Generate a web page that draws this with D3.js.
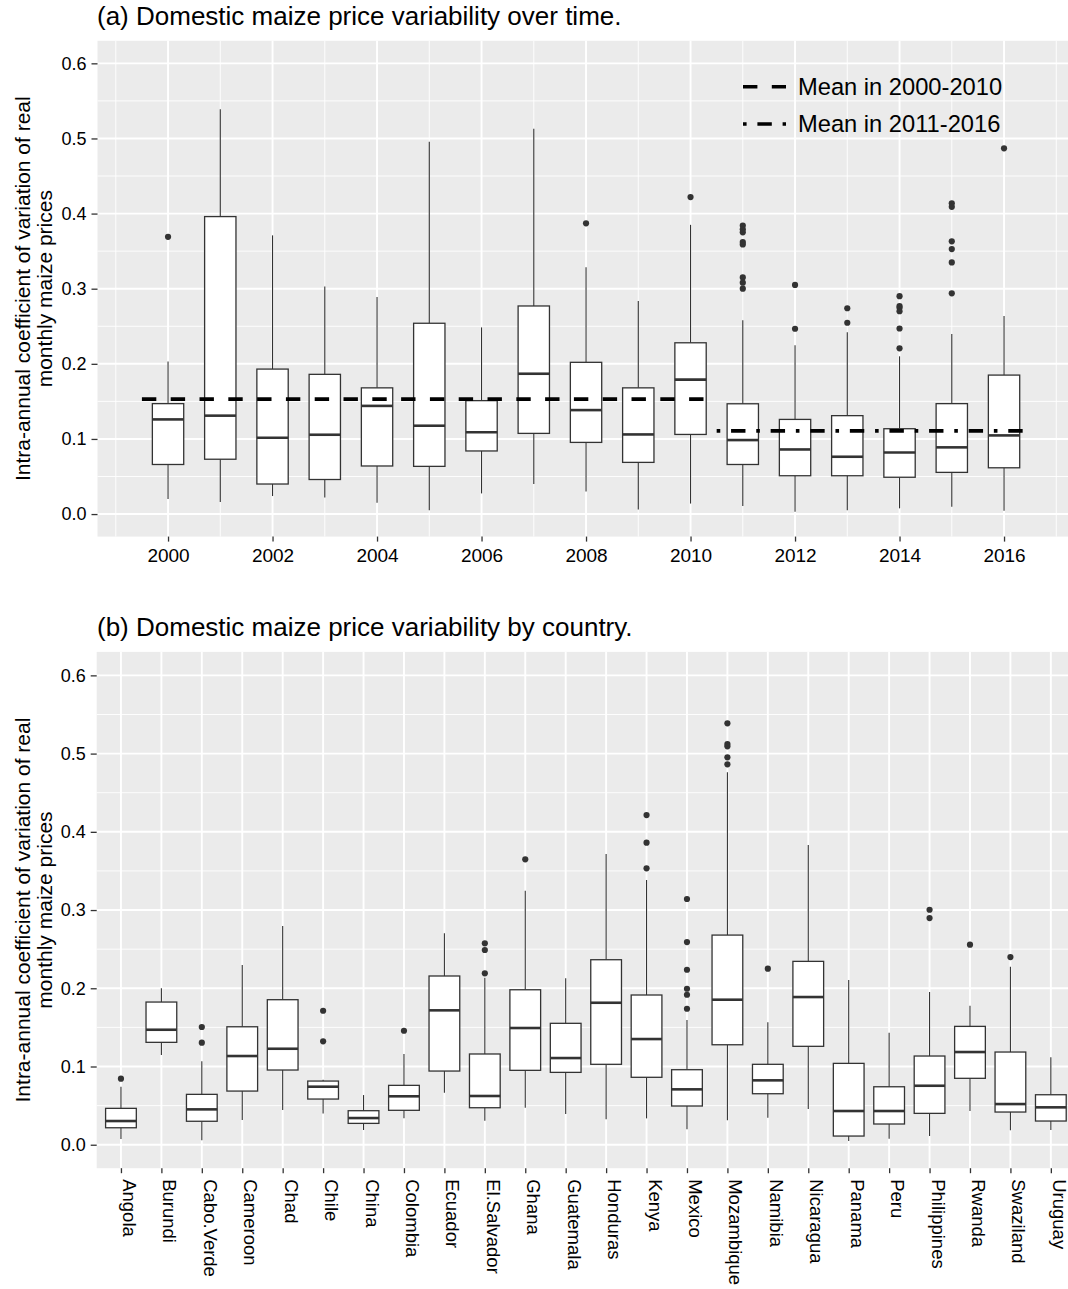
<!DOCTYPE html>
<html>
<head>
<meta charset="utf-8">
<script src="https://cdn.jsdelivr.net/npm/d3@7"></script>
<style>
  html, body { margin: 0; padding: 0; background: #ffffff; }
  svg { display: block; }
  text { font-family: "Liberation Sans", Arial, Helvetica, sans-serif; fill: #000; }
</style>
</head>
<body>
<svg id="chart" width="1068" height="1289"></svg>
<script>
// ---- Panel (a): yearly boxplot statistics --------------------------------
const years = [2000, 2001, 2002, 2003, 2004, 2005, 2006, 2007, 2008, 2009, 2010, 2011, 2012, 2013, 2014, 2015, 2016];
const yearWhiskerLow  = [0.020, 0.016, 0.024, 0.022, 0.015, 0.005, 0.0275, 0.040, 0.030, 0.006, 0.014, 0.0106, 0.003, 0.005, 0.0076, 0.0097, 0.0044];
const yearQ1          = [0.066, 0.073, 0.040, 0.046, 0.064, 0.0635, 0.084, 0.1074, 0.0954, 0.0688, 0.106, 0.066, 0.051, 0.051, 0.049, 0.0555, 0.0616];
const yearMedian      = [0.126, 0.131, 0.1016, 0.1056, 0.144, 0.1176, 0.109, 0.1868, 0.1384, 0.106, 0.179, 0.0985, 0.086, 0.0763, 0.082, 0.0888, 0.1047];
const yearQ3          = [0.147, 0.396, 0.193, 0.186, 0.168, 0.254, 0.151, 0.277, 0.202, 0.168, 0.228, 0.1468, 0.126, 0.131, 0.1136, 0.147, 0.185];
const yearWhiskerHigh = [0.203, 0.539, 0.371, 0.303, 0.289, 0.4956, 0.2485, 0.513, 0.3284, 0.2835, 0.385, 0.258, 0.2246, 0.242, 0.210, 0.2396, 0.2636];
const yearOutliers = [
  [0.369], [], [], [], [], [], [], [], [0.387], [], [0.422],
  [0.384, 0.379, 0.375, 0.362, 0.359, 0.315, 0.308, 0.300],
  [0.305, 0.2467],
  [0.274, 0.2547],
  [0.290, 0.277, 0.2746, 0.270, 0.247, 0.2206],
  [0.4136, 0.409, 0.363, 0.3528, 0.335, 0.2938],
  [0.4868]
];
const yearTicks = [2000, 2002, 2004, 2006, 2008, 2010, 2012, 2014, 2016];

// Period means drawn as horizontal reference lines
const meanPeriods = ["Mean in 2000-2010", "Mean in 2011-2016"];
const meanStart = [1999.5, 2010.5];
const meanEnd   = [2010.5, 2016.5];
const meanValue = [0.153, 0.1107];

// ---- Panel (b): country boxplot statistics -------------------------------
const countries = ["Angola", "Burundi", "Cabo.Verde", "Cameroon", "Chad", "Chile", "China", "Colombia",
  "Ecuador", "El.Salvador", "Ghana", "Guatemala", "Honduras", "Kenya", "Mexico", "Mozambique",
  "Namibia", "Nicaragua", "Panama", "Peru", "Philippines", "Rwanda", "Swaziland", "Uruguay"];
const countryWhiskerLow  = [0.0073, 0.1147, 0.0056, 0.0316, 0.0444, 0.040, 0.0188, 0.0337, 0.0665, 0.0307, 0.0473, 0.0392, 0.0325, 0.0337, 0.0197, 0.0312, 0.0345, 0.0456, 0.0047, 0.0077, 0.0111, 0.0431, 0.0184, 0.0188];
const countryQ1          = [0.0217, 0.1309, 0.030, 0.0686, 0.0955, 0.0584, 0.0273, 0.044, 0.0942, 0.0473, 0.0951, 0.0925, 0.1028, 0.0862, 0.0495, 0.1278, 0.0652, 0.1258, 0.0111, 0.0265, 0.0401, 0.0849, 0.0418, 0.0303];
const countryMedian      = [0.0303, 0.147, 0.0452, 0.1134, 0.1227, 0.0742, 0.0341, 0.0619, 0.1718, 0.0623, 0.1492, 0.1108, 0.1815, 0.1351, 0.0708, 0.1854, 0.0823, 0.1888, 0.0431, 0.0431, 0.0754, 0.1185, 0.052, 0.0478];
const countryQ3          = [0.0465, 0.1824, 0.0644, 0.1508, 0.1854, 0.0814, 0.0435, 0.0759, 0.2157, 0.116, 0.1981, 0.1552, 0.2365, 0.1914, 0.0959, 0.268, 0.1028, 0.2344, 0.104, 0.0741, 0.1134, 0.1513, 0.1185, 0.0639];
const countryWhiskerHigh = [0.074, 0.200, 0.1066, 0.2297, 0.2796, 0.083, 0.0635, 0.116, 0.2702, 0.2135, 0.3247, 0.2127, 0.3716, 0.3384, 0.1594, 0.476, 0.1565, 0.3831, 0.2105, 0.1432, 0.1952, 0.1777, 0.2275, 0.1117];
const countryOutliers = [
  [0.0844], [], [0.1505, 0.1304], [], [], [0.1713, 0.1322], [], [0.1457],
  [], [0.2574, 0.2489, 0.2191], [0.3648], [], [], [0.4214, 0.3861, 0.3533],
  [0.3141, 0.2591, 0.2237, 0.1994, 0.1917, 0.1738],
  [0.5387, 0.5122, 0.5093, 0.4952, 0.4863],
  [0.225], [], [], [], [0.3004, 0.2898], [0.2557], [0.2399], []
];

const yTicks = [0, 0.1, 0.2, 0.3, 0.4, 0.5, 0.6];
const yMinor = [0.05, 0.15, 0.25, 0.35, 0.45, 0.55];
const yTitleLines = ["Intra-annual coefficient of variation of real", "monthly maize prices"];
const titles = ["(a) Domestic maize price variability over time.", "(b) Domestic maize price variability by country."];

// ---- Shared styling -------------------------------------------------------
const PANEL_BG = "#EBEBEB";
const INK = "#333333";
const svg = d3.select("#chart");
svg.append("rect").attr("width", 1068).attr("height", 1289).attr("fill", "#fff");

function panelFrame(g, x0, x1, y, title, titleY) {
  const [yb, yt] = y.range();
  g.append("rect").attr("x", x0).attr("y", yt).attr("width", x1 - x0).attr("height", yb - yt).attr("fill", PANEL_BG);
  // minor horizontal grid
  g.selectAll(null).data(yMinor).enter().append("line")
    .attr("x1", x0).attr("x2", x1).attr("y1", d => y(d)).attr("y2", d => y(d))
    .attr("stroke", "#fff").attr("stroke-width", 0.9);
  // major horizontal grid
  g.selectAll(null).data(yTicks).enter().append("line")
    .attr("x1", x0).attr("x2", x1).attr("y1", d => y(d)).attr("y2", d => y(d))
    .attr("stroke", "#fff").attr("stroke-width", 1.9);
  // y axis
  const ax = g.append("g").attr("transform", `translate(${x0},0)`)
    .call(d3.axisLeft(y).tickValues(yTicks).tickFormat(d3.format(".1f")).tickSize(6).tickPadding(5));
  ax.select(".domain").remove();
  ax.selectAll(".tick line").attr("stroke", INK).attr("stroke-width", 1.3);
  ax.selectAll(".tick text").attr("font-size", 18).attr("fill", "#000")
    .attr("font-family", "'Liberation Sans', Arial, sans-serif");
  // y axis title (two lines)
  const cy = (yb + yt) / 2;
  g.append("text").attr("transform", `translate(29.5,${cy}) rotate(-90)`)
    .attr("text-anchor", "middle").attr("font-size", 21).text(yTitleLines[0]);
  g.append("text").attr("transform", `translate(51.5,${cy}) rotate(-90)`)
    .attr("text-anchor", "middle").attr("font-size", 21).text(yTitleLines[1]);
  // panel title
  g.append("text").attr("x", 97).attr("y", titleY).attr("font-size", 26).text(title);
}

function drawBoxes(g, xs, y, halfWidth, lo, q1, med, q3, hi, outs) {
  const boxes = g.selectAll(null).data(xs.map((x, i) => ({ x, i }))).enter().append("g");
  boxes.append("line").attr("x1", d => d.x).attr("x2", d => d.x)
    .attr("y1", d => y(q3[d.i])).attr("y2", d => y(hi[d.i])).attr("stroke", INK).attr("stroke-width", 1.1);
  boxes.append("line").attr("x1", d => d.x).attr("x2", d => d.x)
    .attr("y1", d => y(q1[d.i])).attr("y2", d => y(lo[d.i])).attr("stroke", INK).attr("stroke-width", 1.1);
  boxes.append("rect").attr("x", d => d.x - halfWidth).attr("width", 2 * halfWidth)
    .attr("y", d => y(q3[d.i])).attr("height", d => y(q1[d.i]) - y(q3[d.i]))
    .attr("fill", "#fff").attr("stroke", INK).attr("stroke-width", 1.3);
  boxes.append("line").attr("x1", d => d.x - halfWidth).attr("x2", d => d.x + halfWidth)
    .attr("y1", d => y(med[d.i])).attr("y2", d => y(med[d.i])).attr("stroke", INK).attr("stroke-width", 2.6);
  boxes.selectAll("circle").data(d => outs[d.i].map(v => ({ x: d.x, v }))).enter().append("circle")
    .attr("cx", d => d.x).attr("cy", d => y(d.v)).attr("r", 3.1).attr("fill", INK);
}

// ---- Panel (a) ------------------------------------------------------------
{
  const g = svg.append("g");
  const x0 = 97.5, x1 = 97.5 + 18.7 * 52.25;
  const x = d3.scaleLinear().domain([1998.65, 2017.35]).range([x0, x1]);
  const y = d3.scaleLinear().domain([-0.03, 0.63]).range([536.6, 40.8]);
  panelFrame(g, x0, x1, y, titles[0], 25);

  // vertical grid: minor on odd years, major on even years
  const minorYears = d3.range(1999, 2018, 2);
  g.selectAll(null).data(minorYears).enter().append("line")
    .attr("x1", d => x(d)).attr("x2", d => x(d)).attr("y1", y.range()[1]).attr("y2", y.range()[0])
    .attr("stroke", "#fff").attr("stroke-width", 0.9);
  g.selectAll(null).data(yearTicks).enter().append("line")
    .attr("x1", d => x(d)).attr("x2", d => x(d)).attr("y1", y.range()[1]).attr("y2", y.range()[0])
    .attr("stroke", "#fff").attr("stroke-width", 1.9);

  const ax = g.append("g").attr("transform", `translate(0,${y.range()[0]})`)
    .call(d3.axisBottom(x).tickValues(yearTicks).tickFormat(d3.format("d")).tickSize(5).tickPadding(7));
  ax.select(".domain").remove();
  ax.selectAll(".tick line").attr("stroke", INK).attr("stroke-width", 1.3);
  ax.selectAll(".tick text").attr("font-size", 19).attr("fill", "#000")
    .attr("font-family", "'Liberation Sans', Arial, sans-serif");

  const half = (x(2000.3) - x(2000));
  drawBoxes(g, years.map(d => x(d)), y, half, yearWhiskerLow, yearQ1, yearMedian, yearQ3, yearWhiskerHigh, yearOutliers);

  // period mean lines
  const lw = 3.6;
  const dashes = [`${4 * lw} ${4 * lw}`, `${lw} ${3 * lw} ${4 * lw} ${3 * lw}`];
  meanValue.forEach((v, i) => {
    g.append("line").attr("x1", x(meanStart[i])).attr("x2", x(meanEnd[i]))
      .attr("y1", y(v)).attr("y2", y(v)).attr("stroke", "#000").attr("stroke-width", lw)
      .attr("stroke-dasharray", dashes[i]);
  });

  // legend
  const legY = [86.7, 124];
  meanPeriods.forEach((label, i) => {
    g.append("line").attr("x1", 743).attr("x2", 786).attr("y1", legY[i]).attr("y2", legY[i])
      .attr("stroke", "#000").attr("stroke-width", lw).attr("stroke-dasharray", dashes[i]);
    g.append("text").attr("x", 798).attr("y", legY[i]).attr("dy", "0.35em")
      .attr("font-size", 23.7).text(label);
  });
}

// ---- Panel (b) ------------------------------------------------------------
{
  const g = svg.append("g");
  const step = 40.43;
  const x0 = 96.7, x1 = 96.7 + 24.2 * step;
  const x = d3.scalePoint().domain(countries).range([x0 + 0.6 * step, x0 + 23.6 * step]);
  const y = d3.scaleLinear().domain([-0.03, 0.63]).range([1168.2, 651.9]);
  panelFrame(g, x0, x1, y, titles[1], 636);

  g.selectAll(null).data(countries).enter().append("line")
    .attr("x1", d => x(d)).attr("x2", d => x(d)).attr("y1", y.range()[1]).attr("y2", y.range()[0])
    .attr("stroke", "#fff").attr("stroke-width", 1.9);

  const ax = g.append("g").attr("transform", `translate(0,${y.range()[0]})`)
    .call(d3.axisBottom(x).tickSize(5));
  ax.select(".domain").remove();
  ax.selectAll(".tick line").attr("stroke", INK).attr("stroke-width", 1.3);
  ax.selectAll(".tick text")
    .attr("font-size", 18.5).attr("fill", "#000")
    .attr("font-family", "'Liberation Sans', Arial, sans-serif")
    .attr("text-anchor", "start")
    .attr("transform", "rotate(90)")
    .attr("x", 11).attr("y", -1.5).attr("dy", 0);

  const half = 0.38 * step;
  drawBoxes(g, countries.map(d => x(d)), y, half, countryWhiskerLow, countryQ1, countryMedian, countryQ3, countryWhiskerHigh, countryOutliers);
}
</script>
</body>
</html>
